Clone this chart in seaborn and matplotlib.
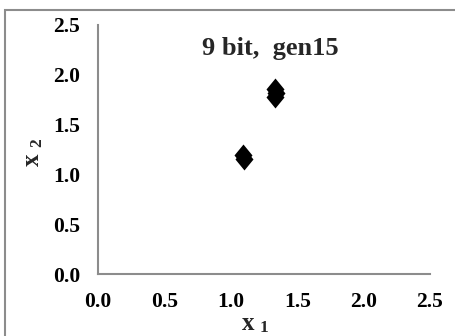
import matplotlib
matplotlib.use("Agg")
import matplotlib.pyplot as plt
from matplotlib.patches import Rectangle
import seaborn as sns
import pandas as pd

# Population after generation 15 (9-bit encoding)
x1 = [1.09, 1.10, 1.33, 1.34, 1.33]
x2 = [1.19, 1.15, 1.86, 1.82, 1.78]
x_ticks = [0.0, 0.5, 1.0, 1.5, 2.0, 2.5]
y_ticks = [0.0, 0.5, 1.0, 1.5, 2.0, 2.5]
title_text = "9 bit,  gen15"

sns.set_theme(style="white")
plt.rcParams["font.family"] = ["Liberation Serif", "DejaVu Serif"]
plt.rcParams["font.weight"] = "bold"

df = pd.DataFrame({"x1": x1, "x2": x2})

fig = plt.figure(figsize=(4.55, 3.36), dpi=100)
ax = fig.add_axes([0.2154, 0.1845, 0.7296, 0.7411])

diamond = [(0, 1), (0.82, 0), (0, -1), (-0.82, 0), (0, 1)]
sns.scatterplot(data=df, x="x1", y="x2", ax=ax, marker=diamond, s=250,
                color="black", linewidth=0)

ax.set_xlim(0, 2.5)
ax.set_ylim(0, 2.5)
ax.set_xticks(x_ticks)
ax.set_yticks(y_ticks)
ax.set_xticklabels([f"{v:.1f}" for v in x_ticks], fontsize=15.5, fontweight="bold")
ax.set_yticklabels([f"{v:.1f}" for v in y_ticks], fontsize=15.5, fontweight="bold")
ax.tick_params(axis="both", length=0, colors="black")
ax.tick_params(axis="x", pad=13)
ax.tick_params(axis="y", pad=13)

for side in ("top", "right"):
    ax.spines[side].set_visible(False)
for side in ("left", "bottom"):
    ax.spines[side].set_color("#8c8c8c")
    ax.spines[side].set_linewidth(1.5)

ax.set_xlabel("")
ax.set_ylabel("")

ax.text(0.52, 0.905, title_text, transform=ax.transAxes, ha="center", va="center",
        fontsize=19, fontweight="bold")

# axis labels with subscripts
fig.text(248 / 455, 1 - 323 / 336, "x", ha="center", va="center",
         fontsize=18, fontweight="bold")
fig.text(264 / 455, 1 - 328.5 / 336, "1", ha="center", va="center",
         fontsize=12.5, fontweight="bold")
fig.text(32 / 455, 1 - 160 / 336, "x", ha="center", va="center",
         fontsize=18, fontweight="bold", rotation=90)
fig.text(37 / 455, 1 - 143 / 336, "2", ha="center", va="center",
         fontsize=12.5, fontweight="bold", rotation=90)

# chart-area frame
fig.patches.append(Rectangle((5 / 455, -0.1), 1.2, 1 - 10 / 336 + 0.1,
                             transform=fig.transFigure, fill=False,
                             edgecolor="#8c8c8c", linewidth=1.5))

fig.savefig("out.png", dpi=100)
